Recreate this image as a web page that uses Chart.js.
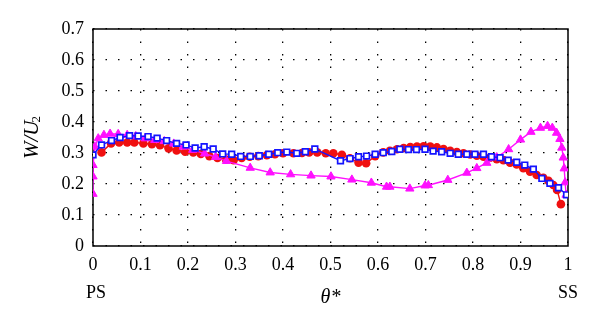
<!DOCTYPE html>
<html>
<head>
<meta charset="utf-8">
<script src="https://cdn.jsdelivr.net/npm/chart.js@4.4.1/dist/chart.umd.min.js"></script>
<style>
  html, body { margin: 0; padding: 0; background: #fff; }
</style>
</head>
<body>
<canvas id="velChart" width="600" height="330"></canvas>
<script>
// relative velocity W/U2 along the blade, theta* from PS (0) to SS (1)
const xRed = [0.018, 0.038, 0.055, 0.072, 0.087, 0.106, 0.124, 0.141, 0.159, 0.176, 0.194, 0.211, 0.227, 0.245,
  0.262, 0.28, 0.296, 0.313, 0.33, 0.348, 0.366, 0.383, 0.40, 0.422, 0.44, 0.455, 0.472, 0.49, 0.506, 0.524,
  0.541, 0.559, 0.575, 0.594, 0.611, 0.625, 0.64, 0.654, 0.668, 0.682, 0.696, 0.71, 0.724, 0.738, 0.752,
  0.766, 0.78, 0.794, 0.808, 0.822, 0.836, 0.85, 0.864, 0.878, 0.892, 0.906, 0.92, 0.934, 0.948, 0.959,
  0.969, 0.977, 0.985];
const yRed = [0.302, 0.331, 0.334, 0.334, 0.334, 0.331, 0.328, 0.325, 0.315, 0.308, 0.304, 0.302, 0.297, 0.29,
  0.284, 0.279, 0.277, 0.284, 0.288, 0.29, 0.293, 0.296, 0.299, 0.299, 0.30, 0.302, 0.302, 0.299, 0.299, 0.294,
  0.283, 0.269, 0.267, 0.29, 0.302, 0.307, 0.312, 0.316, 0.319, 0.321, 0.322, 0.321, 0.318, 0.313, 0.307,
  0.303, 0.299, 0.295, 0.291, 0.288, 0.285, 0.28, 0.277, 0.269, 0.263, 0.251, 0.24, 0.229, 0.22, 0.21,
  0.197, 0.181, 0.135];

const xBlue = [0.0, 0.018, 0.039, 0.057, 0.077, 0.095, 0.116, 0.135, 0.155, 0.176, 0.196, 0.215, 0.234, 0.253,
  0.273, 0.292, 0.311, 0.331, 0.35, 0.37, 0.389, 0.408, 0.429, 0.447, 0.467, 0.521, 0.541, 0.559, 0.576,
  0.594, 0.611, 0.629, 0.646, 0.664, 0.681, 0.699, 0.716, 0.734, 0.752, 0.769, 0.787, 0.804, 0.822, 0.839,
  0.857, 0.874, 0.892, 0.909, 0.927, 0.945, 0.962, 0.98, 0.997];
const yBlue = [0.294, 0.326, 0.34, 0.35, 0.356, 0.355, 0.353, 0.348, 0.34, 0.331, 0.326, 0.316, 0.32, 0.313,
  0.297, 0.296, 0.289, 0.289, 0.291, 0.296, 0.301, 0.303, 0.299, 0.304, 0.313, 0.275, 0.282, 0.288, 0.29,
  0.296, 0.301, 0.305, 0.312, 0.311, 0.311, 0.312, 0.306, 0.304, 0.299, 0.296, 0.296, 0.296, 0.296, 0.288,
  0.285, 0.277, 0.27, 0.261, 0.248, 0.218, 0.202, 0.188, 0.165];

const xMag = [0.0, 0.0, 0.0, 0.004, 0.011, 0.023, 0.036, 0.053, 0.072, 0.09, 0.11, 0.13, 0.15, 0.17, 0.19,
  0.21, 0.235, 0.258, 0.281, 0.331, 0.373, 0.416, 0.459, 0.501, 0.545, 0.586, 0.618, 0.625, 0.667, 0.699,
  0.706, 0.747, 0.787, 0.808, 0.829, 0.85, 0.875, 0.9, 0.922, 0.942, 0.957, 0.967, 0.976, 0.983, 0.987,
  0.99, 0.992, 0.994, 0.996];
const yMag = [0.168, 0.224, 0.261, 0.32, 0.347, 0.358, 0.362, 0.361, 0.358, 0.354, 0.347, 0.342, 0.338, 0.33,
  0.32, 0.31, 0.298, 0.287, 0.274, 0.252, 0.237, 0.231, 0.227, 0.224, 0.214, 0.204, 0.191, 0.191, 0.185,
  0.195, 0.196, 0.213, 0.236, 0.251, 0.268, 0.286, 0.312, 0.343, 0.368, 0.381, 0.387, 0.381, 0.365, 0.345,
  0.317, 0.285, 0.25, 0.205, 0.165];

const xTickLabels = ['0', '0.1', '0.2', '0.3', '0.4', '0.5', '0.6', '0.7', '0.8', '0.9', '1'];
const yTickLabels = ['0', '0.1', '0.2', '0.3', '0.4', '0.5', '0.6', '0.7'];

const pts = (xs, ys) => xs.map((x, i) => ({ x: x, y: ys[i] }));
const serif = '"Liberation Serif", "Times New Roman", serif';

// solid box round the plot, drawn under the markers
const frameBox = {
  id: 'frameBox',
  beforeDatasetsDraw(chart) {
    const { ctx, chartArea: a } = chart;
    ctx.save();
    ctx.strokeStyle = '#000';
    ctx.lineWidth = 1.5;
    ctx.strokeRect(a.left, a.top, a.right - a.left, a.bottom - a.top);
    ctx.restore();
  }
};

// axis names: W/U2 on the left, theta* below, PS / SS at the ends
const axisText = {
  id: 'axisText',
  afterDraw(chart) {
    const { ctx, chartArea: a, scales } = chart;
    ctx.save();
    ctx.fillStyle = '#000';
    ctx.textBaseline = 'middle';

    ctx.font = '18px ' + serif;
    ctx.textAlign = 'center';
    ctx.fillText('PS', scales.x.getPixelForValue(0) + 3, 293);
    ctx.fillText('SS', scales.x.getPixelForValue(1), 293);

    ctx.font = 'italic 20px ' + serif;
    ctx.fillText('θ*', (a.left + a.right) / 2, 298);

    ctx.translate(32, (a.top + a.bottom) / 2);
    ctx.rotate(-Math.PI / 2);
    const main = 'W/U';
    const wMain = ctx.measureText(main).width;
    ctx.font = 'italic 13px ' + serif;
    const wSub = ctx.measureText('2').width;
    const x0 = -(wMain + wSub) / 2;
    ctx.font = 'italic 21px ' + serif;
    ctx.textAlign = 'left';
    ctx.fillText(main, x0, 0);
    ctx.font = '13px ' + serif;
    ctx.fillText('2', x0 + wMain, 5);
    ctx.restore();
  }
};

new Chart(document.getElementById('velChart'), {
  type: 'scatter',
  data: {
    datasets: [
      {
        label: 'blue',
        data: pts(xBlue, yBlue),
        showLine: true,
        borderColor: '#1414ff',
        borderWidth: 1.4,
        pointStyle: 'rect',
        pointRadius: 4,
        pointBackgroundColor: '#ffffff',
        pointBorderColor: '#1414ff',
        pointBorderWidth: 1.7,
        order: 1
      },
      {
        label: 'magenta',
        data: pts(xMag, yMag),
        showLine: true,
        borderColor: '#ff10ff',
        borderWidth: 1.4,
        pointStyle: 'triangle',
        pointRadius: 4.8,
        pointBackgroundColor: '#ff10ff',
        pointBorderColor: '#ff10ff',
        pointBorderWidth: 1,
        order: 2
      },
      {
        label: 'red',
        data: pts(xRed, yRed),
        showLine: true,
        borderColor: '#f01010',
        borderWidth: 1.4,
        pointStyle: 'circle',
        pointRadius: 4.3,
        pointBackgroundColor: '#f01010',
        pointBorderColor: '#f01010',
        pointBorderWidth: 0,
        order: 3
      }
    ]
  },
  options: {
    responsive: false,
    animation: false,
    layout: { padding: { top: 29, right: 32, left: 0, bottom: 0 } },
    plugins: {
      legend: { display: false },
      tooltip: { enabled: false }
    },
    scales: {
      x: {
        type: 'linear',
        min: 0,
        max: 1,
        afterFit: (s) => { s.height = 84; },
        afterBuildTicks: (s) => { s.ticks = xTickLabels.map((t, i) => ({ value: i / 10 })); },
        ticks: {
          color: '#000',
          padding: 8,
          maxRotation: 0,
          autoSkip: false,
          font: { family: serif, size: 18 },
          callback: (v, i) => xTickLabels[i]
        },
        grid: { color: '#000', lineWidth: 1.3, drawTicks: false },
        border: { display: false, dash: [1.5, 11] }
      },
      y: {
        min: 0,
        max: 0.7,
        afterFit: (s) => { s.width = 93; },
        afterBuildTicks: (s) => { s.ticks = yTickLabels.map((t, i) => ({ value: i / 10 })); },
        ticks: {
          color: '#000',
          padding: 9,
          autoSkip: false,
          font: { family: serif, size: 18 },
          callback: (v, i) => yTickLabels[i]
        },
        grid: { color: '#000', lineWidth: 1.3, drawTicks: false },
        border: { display: false, dash: [1.5, 11] }
      }
    }
  },
  plugins: [frameBox, axisText]
});
</script>
</body>
</html>
